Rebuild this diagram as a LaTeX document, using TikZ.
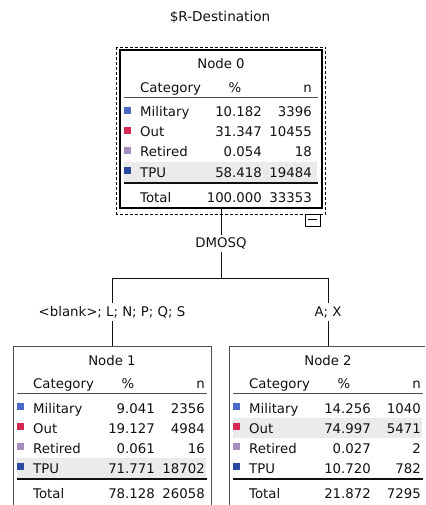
\documentclass[tikz,border=0pt]{standalone}
\usepackage{fontspec}
\setmainfont{DejaVu Sans}
\definecolor{milc}{HTML}{4A6CC8}
\definecolor{outc}{HTML}{D42A52}
\definecolor{retc}{HTML}{A68DC0}
\definecolor{tpuc}{HTML}{2B4A9E}
\definecolor{bandc}{HTML}{EBEBEB}
\definecolor{framec}{HTML}{4D4D4D}
\definecolor{inkc}{HTML}{111111}

% Category table inside a tree node box:
% #1 box name, #2 title, #3 rows colour/label/percent/count,
% #4 total percent, #5 total count, #6 highlighted row
\newcommand\cattable[6]{%
  \fill[bandc] ([shift={(4,{52+20*(#6-1)})}]#1.north west)
     rectangle ([shift={(-5,{72+20*(#6-1)})}]#1.north east);
  \node[basec] (#1-title) at ([shift={(0,19)}]#1.north) {#2};
  \node[basew] (#1-cat) at ([shift={(20,42.5)}]#1.north west) {Category};
  \node[basec] (#1-pct) at ([shift={(115,42.5)}]#1.north west) {\%};
  \node[basee] (#1-n) at ([shift={(192,42.5)}]#1.north west) {n};
  \draw[headrule] ([shift={(4,47.5)}]#1.north west) -- ([shift={(-4,47.5)}]#1.north east);
  \foreach \col/\lab/\pc/\cnt [count=\i] in {#3} {
    \node[swatch, fill=\col] (#1-sw\i) at ([shift={(7.5,{60.5+20*(\i-1)})}]#1.north west) {};
    \node[basew] (#1-lab\i) at ([shift={(20,{67+20*(\i-1)})}]#1.north west) {\lab};
    \node[basee] (#1-pc\i) at ([shift={(142,{67+20*(\i-1)})}]#1.north west) {\pc};
    \node[basee] (#1-ct\i) at ([shift={(192,{67+20*(\i-1)})}]#1.north west) {\cnt};
  }
  \draw[totalrule] ([shift={(4,133)}]#1.north west) -- ([shift={(-4,133)}]#1.north east);
  \node[basew] (#1-tot) at ([shift={(20,152)}]#1.north west) {Total};
  \node[basee] (#1-totpc) at ([shift={(142,152)}]#1.north west) {#4};
  \node[basee] (#1-totct) at ([shift={(192,152)}]#1.north west) {#5};
}

\begin{document}
\begin{tikzpicture}[x=1pt, y=-1pt,
  font=\fontsize{13.3}{16}\selectfont, text=inkc,
  box/.style={draw=framec, line width=0.9pt, minimum width=198pt,
    minimum height=165pt, inner sep=0pt, outer sep=0pt, anchor=north west},
  rootbox/.style={draw=black, line width=2.2pt, minimum width=202pt,
    minimum height=158pt, inner sep=0pt, outer sep=0pt, anchor=north west},
  basew/.style={anchor=base west, inner sep=0pt},
  basee/.style={anchor=base east, inner sep=0pt},
  basec/.style={anchor=base, inner sep=0pt},
  swatch/.style={minimum size=7pt, inner sep=0pt, outer sep=0pt},
  headrule/.style={draw=framec, line width=0.8pt},
  totalrule/.style={draw=inkc, line width=1.2pt},
  conn/.style={draw=inkc, line width=0.9pt},
  branch/.style={inner sep=3pt}]

\useasboundingbox (0,0) rectangle (425,505);
\clip (0,0) rectangle (425,505);

\node (head) at (220,17) {\fontsize{13.6}{16}\selectfont \$R-Destination};

% boxes
\node[rootbox] (n0) at (120,50) {};
\node[box] (n1) at (13,346) {};
\node[box] (n2) at (229,346) {};

% selection frame and collapse toggle of the root
\draw[line width=0.9pt, dash pattern=on 3pt off 2pt]
  ([shift={(-3.5,-3)}]n0.north west) rectangle ([shift={(3,6)}]n0.south east);
\node[draw=black, fill=white, line width=0.8pt, minimum width=15pt,
  minimum height=12pt, inner sep=0pt] (tog) at (312.5,220) {};
\draw[line width=1pt] ([shift={(-4.5,-1)}]tog.center) -- ([shift={(4.5,-1)}]tog.center);

% tables
\cattable{n0}{Node 0}{milc/Military/10.182/3396, outc/Out/31.347/10455,
  retc/Retired/0.054/18, tpuc/TPU/58.418/19484}{100.000}{33353}{4}
\cattable{n1}{Node 1}{milc/Military/9.041/2356, outc/Out/19.127/4984,
  retc/Retired/0.061/16, tpuc/TPU/71.771/18702}{78.128}{26058}{4}
\cattable{n2}{Node 2}{milc/Military/14.256/1040, outc/Out/74.997/5471,
  retc/Retired/0.027/2, tpuc/TPU/10.720/782}{21.872}{7295}{2}

% split variable and branch labels
\node[branch] (split) at (221,243.5) {DMOSQ};
\coordinate (jl) at (n1.north |- 0,278);
\coordinate (jr) at (n2.north |- 0,278);
\node[branch] (lblL) at (n1.north |- 0,312) {<blank>; L; N; P; Q; S};
\node[branch] (lblR) at (n2.north |- 0,312) {A; X};

% connectors
\draw[conn] (n0.south) -- (split.north);
\draw[conn] (split.south) -- (split.south |- jl);
\draw[conn] (jl) -- (jr);
\draw[conn] (jl) -- (lblL.north);
\draw[conn] (lblL.south) -- (n1.north);
\draw[conn] (jr) -- (lblR.north);
\draw[conn] (lblR.south) -- (n2.north);
\end{tikzpicture}
\end{document}
